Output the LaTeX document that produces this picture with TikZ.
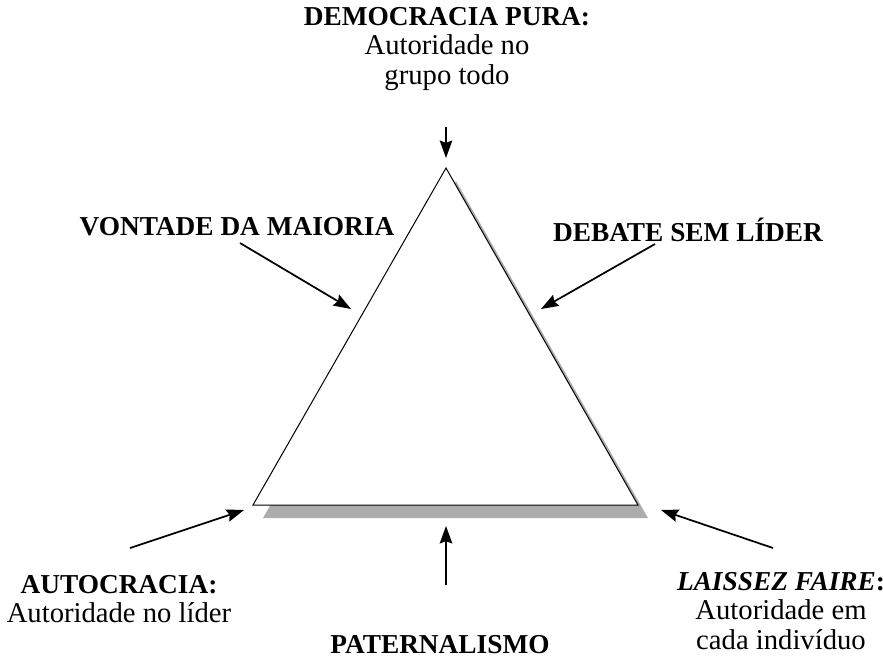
\documentclass[tikz,border=0pt]{standalone}
\usepackage{fontspec}
\setmainfont{Liberation Serif}
\usepackage{tikz}
\usetikzlibrary{arrows.meta}
\newcommand{\hd}[1]{{\fontsize{20.5}{22}\selectfont\bfseries #1}}
\tikzset{
  lbl/.style     = {font=\fontsize{21.5}{22}\selectfont, align=center, inner sep=0pt},
  ptr/.style     = {-{Stealth[length=4.6mm,width=3.3mm,inset=0.6mm]}, black, line width=1.3pt},
  triline/.style = {draw=black, line width=0.75pt, fill=white, line join=miter}
}
\begin{document}
\begin{tikzpicture}[x=0.75pt,y=-0.75pt]
  \useasboundingbox (0,0) rectangle (883,662);
  % triangle corners
  \coordinate (apex) at (446,168);
  \coordinate (left) at (253,505);
  \coordinate (right) at (638,505);
  \fill[gray!65] ([shift={(10,13)}]apex) -- ([shift={(10,13)}]left)
        -- ([shift={(10,13)}]right) -- cycle;
  \draw[triline] (apex) -- (left) -- (right) -- cycle;
  % labels
  \node[lbl,anchor=north] (demo) at (447,7) {\hd{DEMOCRACIA PURA:}\\Autoridade no\\grupo todo};
  \node[lbl,anchor=north] (maioria) at (237,217) {\hd{VONTADE DA MAIORIA}};
  \node[lbl,anchor=north] (debate) at (688,218) {\hd{DEBATE SEM LÍDER}};
  \node[lbl,anchor=north] (auto) at (119,575) {\hd{AUTOCRACIA:}\\Autoridade no líder};
  \node[lbl,anchor=north] (pater) at (440,635) {\hd{PATERNALISMO}};
  \node[lbl,anchor=north] (laissez) at (781,572)
        {\hd{\textit{LAISSEZ FAIRE}:}\\Autoridade em\\cada indivíduo};
  % arrow ends
  \coordinate (t1) at (446,127);  \coordinate (h1) at (446,158);
  \coordinate (t2) at (240,243);  \coordinate (h2) at (351,309);
  \coordinate (t3) at (655,244);  \coordinate (h3) at (541,309);
  \coordinate (t4) at (130,548);  \coordinate (h4) at (244,510);
  \coordinate (t5) at (446,585);  \coordinate (h5) at (446,526);
  \coordinate (t6) at (773,548);  \coordinate (h6) at (661,510);
  \foreach \i in {1,...,6} { \draw[ptr] (t\i) -- (h\i); }
\end{tikzpicture}
\end{document}
